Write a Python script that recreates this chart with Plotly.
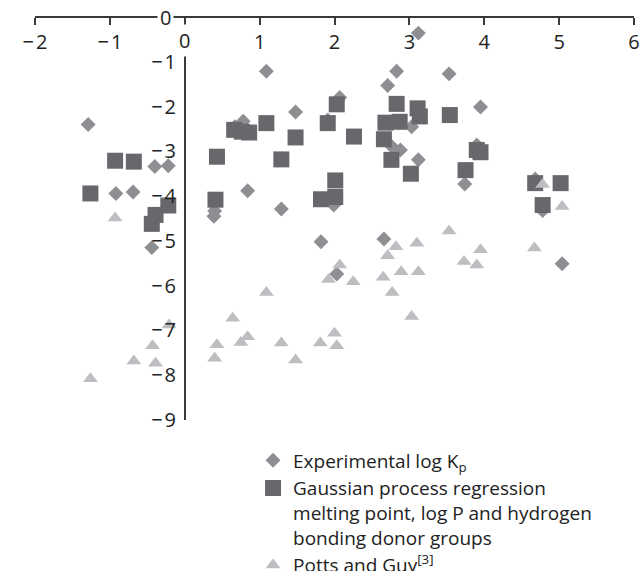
import plotly.graph_objects as go

# Experimental log Kp (diamonds)
exp_x = [1.09, 3.12, 2.83, 2.71, 3.53, 3.95, 1.48, -1.29, 0.78, 0.67, 2.07, 1.91, 3.03, 2.77, 2.88,
         3.12, 3.74, 3.90, -0.40, -0.22, -0.92, -0.69, 0.84, 1.29, 0.40, 0.39, -0.44, 1.82, 1.99,
         2.66, 2.03, 5.04, 4.68, 4.78]
exp_y = [-1.21, -0.36, -1.21, -1.53, -1.27, -2.01, -2.12, -2.40, -2.33, -2.45, -1.80, -2.30, -2.45, -2.90, -2.97,
         -3.19, -3.73, -2.86, -3.34, -3.32, -3.94, -3.91, -3.88, -4.29, -4.33, -4.45, -5.15, -5.02, -4.20,
         -4.96, -5.74, -5.51, -3.62, -4.32]

# Gaussian process regression (squares)
gpr_x = [-1.26, -0.93, -0.68, 0.43, 0.41, -0.22, -0.39, -0.44, 0.66, 0.76, 0.86, 1.09, 1.29, 1.48, 1.91,
         2.03, 2.01, 1.82, 2.01, 2.26, 2.83, 3.11, 3.14, 2.68, 2.87, 2.66, 2.76, 3.02, 3.54, 3.75,
         3.90, 3.95, 4.68, 5.02, 4.78]
gpr_y = [-3.94, -3.21, -3.23, -3.12, -4.08, -4.21, -4.42, -4.62, -2.52, -2.56, -2.58, -2.37, -3.18, -2.69, -2.37,
         -1.95, -3.65, -4.07, -4.02, -2.67, -1.94, -2.04, -2.22, -2.36, -2.34, -2.73, -3.19, -3.50, -2.19, -3.42,
         -2.97, -3.02, -3.71, -3.71, -4.20]

# Potts and Guy (triangles)
pg_x = [-0.93, -1.26, -0.68, -0.43, -0.39, -0.21, 0.43, 0.40, 0.64, 0.75, 0.84, 1.09, 1.29, 1.48, 1.81,
        2.00, 2.03, 2.07, 1.92, 2.25, 2.65, 2.77, 2.71, 2.82, 2.89, 3.10, 3.12, 3.53, 3.73, 3.90,
        3.95, 4.67, 3.03, 4.78, 5.04]
pg_y = [-4.49, -8.08, -7.68, -7.34, -7.73, -6.88, -7.32, -7.62, -6.73, -7.27, -7.14, -6.15, -7.28, -7.66, -7.28,
        -7.06, -7.34, -5.54, -5.86, -5.91, -5.81, -6.15, -5.33, -5.13, -5.69, -5.05, -5.69, -4.78, -5.46, -5.54,
        -5.20, -5.16, -6.69, -3.74, -4.23]

x_ticks = [-2, -1, 0, 1, 2, 3, 4, 5, 6]
x_labels = ["−\u200a2", "−\u200a1", "", "1", "2", "3", "4", "5", "6"]
y_ticks = [-1, -2, -3, -4, -5, -6, -7, -8, -9]
y_labels = ["−\u200a1", "−\u200a2", "−\u200a3", "−\u200a4", "−\u200a5", "−\u200a6", "−\u200a7", "−\u200a8", "−\u200a9"]

FONT = "Open Sans"
AXC = "#3a3a3a"
TXT = "#222"

fig = go.Figure()
fig.add_trace(go.Scatter(x=exp_x, y=exp_y, mode="markers", name="Experimental log K<sub>p</sub>",
                         legendgroup="a",
                         marker=dict(symbol="diamond", size=11.5, color="#8e8f92", line=dict(width=0))))
fig.add_trace(go.Scatter(x=gpr_x, y=gpr_y, mode="markers", legendgroup="a",
                         name="Gaussian process regression<br>melting point, log P and hydrogen<br>bonding donor groups",
                         marker=dict(symbol="square", size=16, color="#67686c", line=dict(width=0))))
fig.add_trace(go.Scatter(x=pg_x, y=pg_y, mode="markers", name="Potts and Guy<sup>[3]</sup>",
                         legendgroup="b",
                         marker=dict(symbol="triangle-up", size=13, color="#bdbec1", line=dict(width=0))))

fig.update_layout(
    width=640, height=571,
    margin=dict(l=34.7, r=6, t=17, b=151, autoexpand=False),
    paper_bgcolor="white", plot_bgcolor="white",
    font=dict(family=FONT, size=20, color=TXT),
    showlegend=True,
    legend=dict(x=0.364, y=-0.053, xanchor="left", yanchor="top", valign="top",
                traceorder="grouped", tracegroupgap=0, groupclick="toggleitem",
                font=dict(family=FONT, size=19, color=TXT), bgcolor="rgba(0,0,0,0)",
                itemsizing="trace"),
    xaxis=dict(range=[-2, 6], side="bottom", anchor="free", position=1.0,
               showgrid=False, zeroline=False, automargin=False,
               showline=True, linecolor=AXC, linewidth=1.5,
               ticks="outside", ticklen=7, tickwidth=1.5, tickcolor=AXC,
               tickvals=x_ticks, ticktext=x_labels,
               tickfont=dict(family=FONT, size=20, color=TXT)),
    yaxis=dict(range=[-9, 0], anchor="free", position=0.25, showgrid=False, zeroline=False,
               automargin=False,
               showline=True, linecolor=AXC, linewidth=1.5, ticks="",
               tickvals=y_ticks, ticktext=y_labels, ticklabelstandoff=4,
               tickfont=dict(family=FONT, size=20, color=TXT)),
)

fig.add_annotation(x=0, y=0, xref="x", yref="y", text="0", showarrow=False, xshift=-19,
                   bgcolor="white", borderpad=2, font=dict(family=FONT, size=20, color=TXT))
fig.add_annotation(x=0, y=0, xref="x", yref="y", text="0", showarrow=False, yshift=-23,
                   bgcolor="white", borderpad=2, font=dict(family=FONT, size=20, color=TXT))

fig.write_html("out.html", config={"displayModeBar": False},
               post_script="document.body.style.margin='0';document.body.style.overflow='hidden';")
